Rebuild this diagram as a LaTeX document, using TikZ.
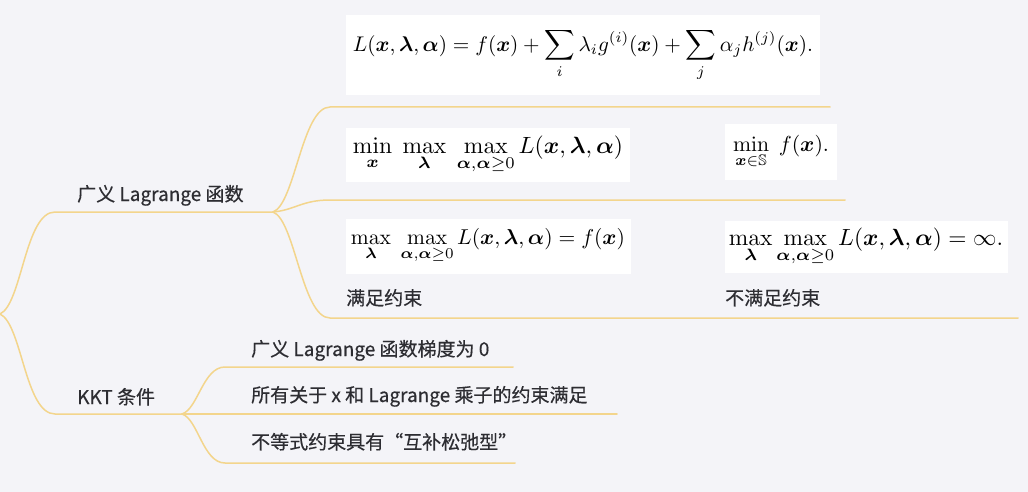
\documentclass[tikz,border=0pt]{standalone}
\usepackage{amsmath,amssymb,bm}
\usepackage{graphicx}
\usepackage[no-math]{fontspec}
\setmainfont{Noto Sans CJK SC}[FakeBold=0.4]
\definecolor{bgc}{RGB}{244,244,248}
\definecolor{branchc}{RGB}{243,213,140}
\definecolor{txtc}{RGB}{45,45,50}
\tikzset{
  branch/.style={draw=branchc, line width=1.5pt, line cap=round},
  label/.style={font=\fontsize{19}{22}\selectfont, text=txtc, inner sep=0pt, anchor=base west},
  mbox/.style={fill=white, inner sep=0pt, anchor=center},
}
\begin{document}
\begin{tikzpicture}[x=1pt,y=-1pt]
\fill[bgc] (0,0) rectangle (1028,492);
\useasboundingbox (0,0) rectangle (1028,492);
% coordinates
\coordinate (root) at (0,314);
\coordinate (a1) at (55,212);  \coordinate (a1e) at (273,212);
\coordinate (b1) at (55,414);  \coordinate (b1e) at (182,414);
\coordinate (c1) at (330,107); \coordinate (c1e) at (830,107);
\coordinate (c2) at (330,200); \coordinate (c2e) at (845,200);
\coordinate (c3) at (330,318); \coordinate (c3e) at (1018,318);
\coordinate (d1) at (225,367); \coordinate (d1e) at (513,367);
\coordinate (d2e) at (617,414);
\coordinate (d3) at (225,463); \coordinate (d3e) at (515,463);
% branches
\draw[branch] (root) .. controls +(22,-10) and +(-30,0) .. (a1) -- (a1e);
\draw[branch] (root) .. controls +(22,10) and +(-30,0) .. (b1) -- (b1e);
\draw[branch] (a1e) .. controls +(22,-8) and +(-28,0) .. (c1) -- (c1e);
\draw[branch] (a1e) .. controls +(22,-2) and +(-28,0) .. (c2) -- (c2e);
\draw[branch] (a1e) .. controls +(22,8) and +(-28,0) .. (c3) -- (c3e);
\draw[branch] (b1e) .. controls +(16,-5) and +(-22,0) .. (d1) -- (d1e);
\draw[branch] (b1e) -- (d2e);
\draw[branch] (b1e) .. controls +(16,5) and +(-22,0) .. (d3) -- (d3e);
% labels
\node[label] (lag) at (77,201) {广义 Lagrange 函数};
\node[label] (kkt) at (77,404) {KKT 条件};
\node[label] (k1) at (251,356) {广义 Lagrange 函数梯度为 0};
\node[label] (k2) at (251,402) {所有关于 x 和 Lagrange 乘子的约束满足};
\node[label] (k3) at (251,449) {不等式约束具有“互补松弛型”};
\node[label] (s1) at (346,305) {满足约束};
\node[label] (s2) at (725,305) {不满足约束};
% formula boxes
\node[mbox, minimum width=474pt, minimum height=80pt] (f1) at (583,55)
  {\resizebox{460pt}{!}{$\displaystyle L(\bm{x},\bm{\lambda},\bm{\alpha}) = f(\bm{x}) + \sum_i \lambda_i g^{(i)}(\bm{x}) + \sum_j \alpha_j h^{(j)}(\bm{x}).$}};
\node[mbox, minimum width=284pt, minimum height=54pt] (f2) at (488,155)
  {\resizebox{270pt}{!}{$\displaystyle \min_{\bm{x}}\;\max_{\bm{\lambda}}\;\max_{\bm{\alpha},\bm{\alpha}\geq 0} L(\bm{x},\bm{\lambda},\bm{\alpha})$}};
\node[mbox, minimum width=112pt, minimum height=55pt] (f3) at (781,152)
  {\resizebox{96pt}{!}{$\displaystyle \min_{\bm{x}\in\mathbb{S}}\; f(\bm{x}).$}};
\node[mbox, minimum width=285pt, minimum height=55pt] (f4) at (488,246)
  {\resizebox{274pt}{!}{$\displaystyle \max_{\bm{\lambda}}\;\max_{\bm{\alpha},\bm{\alpha}\geq 0} L(\bm{x},\bm{\lambda},\bm{\alpha}) = f(\bm{x})$}};
\node[mbox, minimum width=283pt, minimum height=52pt] (f5) at (866,247)
  {\resizebox{274pt}{!}{$\displaystyle \max_{\bm{\lambda}}\max_{\bm{\alpha},\bm{\alpha}\geq 0} L(\bm{x},\bm{\lambda},\bm{\alpha}) = \infty.$}};
\end{tikzpicture}
\end{document}
